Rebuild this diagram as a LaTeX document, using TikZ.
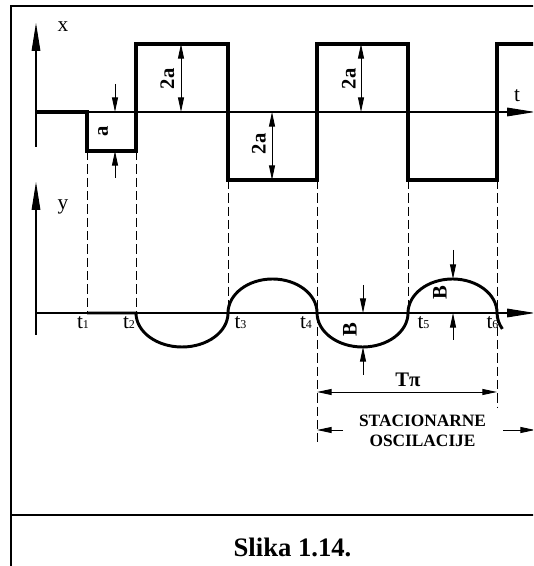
\documentclass[tikz,border=0pt]{standalone}
\usepackage{fontspec}
\setmainfont{Liberation Serif}
\usetikzlibrary{arrows.meta}

\newcommand{\tsub}[1]{t{\fontsize{9pt}{9pt}\selectfont #1}}

\begin{document}
\begin{tikzpicture}[x=0.75pt, y=0.75pt,
    axis/.style = {line width=0.8pt, -{Triangle[length=21pt,width=6.5pt]}},
    wave/.style = {line width=2.8pt, line join=miter},
    resp/.style = {line width=2.2pt},
    guide/.style = {line width=0.7pt, dash pattern=on 7pt off 3pt},
    dim/.style = {line width=0.7pt, -{Triangle[length=11pt,width=4.5pt]}},
    dimboth/.style = {line width=0.7pt, {Triangle[length=11pt,width=4.5pt]}-{Triangle[length=11pt,width=4.5pt]}},
    lbl/.style = {font=\fontsize{15.5pt}{15.5pt}\selectfont\bfseries, rotate=90, inner sep=0pt},
    axlbl/.style = {font=\fontsize{16pt}{16pt}\selectfont, inner sep=0pt, anchor=base},
    tick/.style = {font=\fontsize{16pt}{16pt}\selectfont, inner sep=0pt}]
    \useasboundingbox (0,0) rectangle (533,566);
    \clip (0,0) rectangle (533,566);

    % frame
    \draw[line width=1.7pt] (11,51) rectangle (550,560);
    \draw[line width=0.8pt] (11,51) -- (11,0);

    % upper diagram: x(t)
    \coordinate (xo) at (36,454);
    \draw[axis] (36,419) -- (36,543);
    \draw[axis] (xo) -- (535,454);
    \node[axlbl] (xl) at (63,534) {x};
    \node[axlbl] (tl) at (517,464) {t};
    \draw[wave] (xo) -- (87,454) -- (87,415) -- (136,415) -- (136,522) -- (228,522)
        -- (228,386) -- (317,386) -- (317,522) -- (408,522) -- (408,386)
        -- (497,386) -- (497,522) -- (545,522);

    % amplitudes
    \draw[dim] (115,482) -- (115,454);
    \draw[dim] (115,388) -- (115,415);
    \node[lbl] (a1) at (103,435) {a};
    \draw[dimboth] (181,522) -- (181,454);
    \node[lbl] (a2) at (167.5,487) {2a};
    \draw[dimboth] (272,454) -- (272,386);
    \node[lbl] (a3) at (259,422) {2a};
    \draw[dimboth] (361,522) -- (361,454);
    \node[lbl] (a4) at (349,487) {2a};

    % lower diagram: y(t)
    \coordinate (yo) at (36,253);
    \draw[axis] (36,231) -- (36,384);
    \draw[axis] (yo) -- (535,253);
    \node[axlbl] (yl) at (63,356) {y};

    % guide lines
    \draw[guide] (87,415) -- (87,253);
    \draw[guide] (136,415) -- (136,253);
    \draw[guide] (228,386) -- (228,253);
    \draw[guide] (317,386) -- (317,124);
    \draw[guide] (408,386) -- (408,253);
    \draw[guide] (497,386) -- (497,159);

    \node[tick] (t1) at (83,243.5) {\tsub{1}};
    \node[tick] (t2) at (129,243.5) {\tsub{2}};
    \node[tick] (t3) at (240.5,243.5) {\tsub{3}};
    \node[tick] (t4) at (306,243.5) {\tsub{4}};
    \node[tick] (t5) at (423.5,243.5) {\tsub{5}};
    \node[tick] (t6) at (492.5,243.5) {\tsub{6}};

    \draw[resp] (87,253) -- (136,253)
        arc[start angle=180, end angle=360, x radius=34.5pt, y radius=25.5pt]
        arc[start angle=180, end angle=0, x radius=33.4pt, y radius=25.5pt]
        arc[start angle=180, end angle=360, x radius=34.1pt, y radius=25.5pt]
        arc[start angle=180, end angle=0, x radius=33.4pt, y radius=25.5pt]
        arc[start angle=180, end angle=208, x radius=34pt, y radius=25.5pt];

    % amplitude B
    \draw[dim] (363,281) -- (363,253);
    \draw[dim] (363,191) -- (363,219);
    \node[lbl] (b1) at (350,236) {B};
    \draw[dim] (453,316) -- (453,287);
    \draw[dim] (453,226) -- (453,253);
    \node[lbl] (b2) at (440,273.5) {B};

    % period
    \draw[dimboth] (317,174) -- (497,174);
    \node[font=\fontsize{15.5pt}{15.5pt}\selectfont\bfseries, inner sep=0pt] (tp) at (408,186) {Tπ};

    % steady state
    \draw[dim] (343,136) -- (317,136);
    \draw[dim] (503,136) -- (535,136);
    \node[font=\fontsize{13pt}{14.6pt}\selectfont\bfseries, align=center, inner sep=0pt] (st) at (422.5,135) {STACIONARNE\\OSCILACIJE};

    \node[font=\fontsize{20pt}{20pt}\selectfont\bfseries, inner sep=0pt] (cap) at (292.5,19) {Slika 1.14.};
\end{tikzpicture}
\end{document}
